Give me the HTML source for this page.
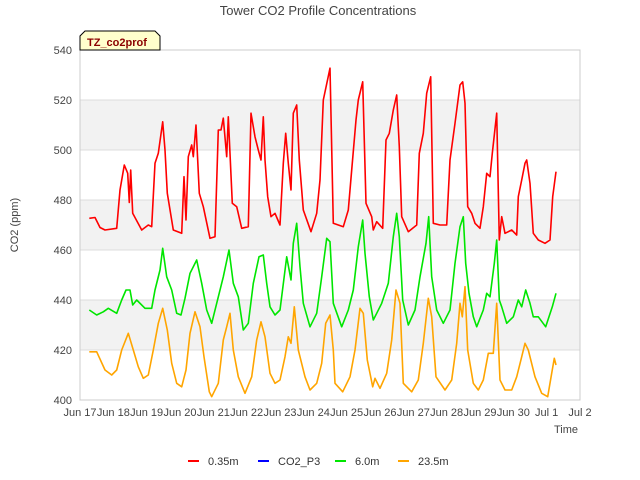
<!DOCTYPE html>
<html><head><meta charset="utf-8"><style>
body{margin:0;background:#fff;}
svg{display:block;font-family:"Liberation Sans","DejaVu Sans",sans-serif;}
</style></head><body>
<svg id="chart" width="640" height="480" xmlns="http://www.w3.org/2000/svg">
<text x="318" y="15" text-anchor="middle" font-size="13" fill="#444">Tower CO2 Profile Concentrations</text>
<g id="bands"></g>
<g id="grid"></g>
<rect x="80" y="50" width="500" height="350" fill="none" stroke="#ccc"/>
<g id="yticks"></g>
<g id="xticks"></g>
<text transform="translate(18,225) rotate(-90)" text-anchor="middle" font-size="11" fill="#444">CO2 (ppm)</text>
<text x="566" y="433" text-anchor="middle" font-size="11" fill="#444">Time</text>
<g id="series"></g>
<g>
<path d="M80,50 L80,36 L85,31 L155,31 L160,36 L160,50 Z" fill="#ffffcc" stroke="#000" stroke-width="1"/>
<text x="87" y="46" font-size="11" font-weight="bold" fill="#8b0000">TZ_co2prof</text>
</g>
<g>
<g><line x1="188" y1="461" x2="199" y2="461" stroke="#ff0000" stroke-width="2"/><text x="208" y="465" font-size="11" fill="#333">0.35m</text></g>
<g><line x1="258" y1="461" x2="269" y2="461" stroke="#0000ff" stroke-width="2"/><text x="278" y="465" font-size="11" fill="#333">CO2_P3</text></g>
<g><line x1="335" y1="461" x2="346" y2="461" stroke="#00e600" stroke-width="2"/><text x="355" y="465" font-size="11" fill="#333">6.0m</text></g>
<g><line x1="398" y1="461" x2="409" y2="461" stroke="#ffa500" stroke-width="2"/><text x="418" y="465" font-size="11" fill="#333">23.5m</text></g>
</g>
</svg>
<script>
// days since Jun 17 00:00
const yTicks = [400,420,440,460,480,500,520,540];
const xTickLabels = ["Jun 17","Jun 18","Jun 19","Jun 20","Jun 21","Jun 22","Jun 23","Jun 24","Jun 25","Jun 26","Jun 27","Jun 28","Jun 29","Jun 30","Jul 1","Jul 2"];
const redT = [0.28,0.45,0.60,0.75,1.10,1.20,1.33,1.43,1.48,1.52,1.58,1.85,2.05,2.15,2.25,2.35,2.48,2.55,2.62,2.80,3.05,3.12,3.18,3.25,3.35,3.40,3.48,3.58,3.70,3.90,4.05,4.15,4.23,4.30,4.40,4.45,4.57,4.70,4.85,5.05,5.13,5.25,5.35,5.43,5.50,5.55,5.63,5.73,5.85,6.00,6.10,6.17,6.25,6.33,6.40,6.50,6.58,6.70,6.93,7.10,7.20,7.30,7.50,7.60,7.90,8.05,8.15,8.28,8.35,8.48,8.58,8.75,8.80,8.90,9.08,9.18,9.28,9.40,9.50,9.58,9.65,9.85,10.10,10.18,10.30,10.40,10.52,10.60,10.80,11.00,11.10,11.25,11.40,11.48,11.55,11.63,11.75,11.85,12.00,12.10,12.20,12.30,12.37,12.50,12.58,12.65,12.75,12.95,13.10,13.15,13.25,13.35,13.40,13.50,13.60,13.75,13.95,14.10,14.18,14.28];
const redV = [472.7,473,469,468,468.7,484,494,490.7,479,492,474.7,468,470,469.3,494.7,498.7,511.3,500,482.7,468,466.7,489.3,472,497.3,502,497.3,510,482.7,477.3,464.7,465.3,508,508,512.7,497.3,513.3,478.7,477.3,468.7,469.3,514.7,505.3,500,496,513.3,496,481.3,473.3,474.7,470,494.7,506.7,494.7,484,514.7,518,496,476,467.3,474.7,488,520,532.7,470.7,469.3,476,492,512,520,527.3,478.7,473.3,468,471.3,468.7,504,506.7,516,522,501.3,473.3,467.3,470,498.7,506.7,522.7,529.3,470.7,470,470,496,510.7,526,527.3,518.7,477.3,474.7,470.7,468.7,477.3,490.7,489.3,498.7,514.7,464,473.3,466.7,468,466,481.3,488,494.7,496,486.7,466.7,464,462.7,464,481.3,491.3];
const greenT = [0.28,0.50,0.70,0.85,1.10,1.25,1.38,1.50,1.58,1.70,1.95,2.15,2.25,2.40,2.48,2.60,2.75,2.90,3.03,3.15,3.30,3.50,3.65,3.80,3.95,4.10,4.30,4.47,4.60,4.75,4.90,5.05,5.20,5.37,5.50,5.60,5.70,5.85,6.00,6.20,6.33,6.40,6.50,6.60,6.70,6.90,7.10,7.25,7.40,7.50,7.60,7.85,8.05,8.20,8.35,8.48,8.55,8.68,8.80,8.90,9.05,9.25,9.40,9.50,9.58,9.68,9.85,10.05,10.20,10.38,10.46,10.55,10.70,10.90,11.10,11.25,11.40,11.50,11.57,11.67,11.80,11.90,12.10,12.20,12.30,12.43,12.50,12.58,12.65,12.80,13.00,13.15,13.25,13.37,13.50,13.60,13.75,13.97,14.17,14.28];
const greenV = [436,434,435.3,436.7,434.7,440,444,444,438,440,436.7,436.7,444,452,460.7,449.3,444,434.7,434,440.7,450.7,456,446.7,436,430.7,438.7,449.3,460,446.7,441.3,428,430.7,446.7,457.3,458,446.7,437.3,434,436,457.3,448,462.7,470.7,453.3,438.7,429.3,434.7,449.3,464.7,463.3,438.7,429.3,436,444,461.3,472,458.7,441.3,432,434.7,438.7,446.7,465.3,474.7,465.3,440,430,436,449.3,462.7,473.3,449.3,436,430.7,436,454.7,469.3,473.3,454.7,442.7,433.3,429.3,436,442.7,441.3,454.7,464,440,437.3,430.7,433.3,440,437.3,444,438.7,433.3,433.3,429.3,437.3,442.7];
const orangeT = [0.28,0.50,0.75,0.95,1.10,1.25,1.45,1.60,1.75,1.90,2.05,2.20,2.35,2.48,2.62,2.75,2.90,3.05,3.18,3.30,3.45,3.60,3.72,3.88,3.95,4.15,4.30,4.40,4.50,4.60,4.75,4.95,5.15,5.30,5.43,5.55,5.70,5.85,6.00,6.15,6.25,6.33,6.43,6.55,6.75,6.90,7.10,7.25,7.37,7.50,7.60,7.65,7.88,8.10,8.25,8.40,8.50,8.62,8.78,8.85,9.00,9.20,9.35,9.48,9.60,9.70,9.95,10.15,10.30,10.45,10.55,10.68,10.95,11.15,11.30,11.40,11.47,11.55,11.63,11.80,11.95,12.10,12.25,12.40,12.50,12.60,12.75,12.95,13.10,13.25,13.35,13.45,13.65,13.85,14.03,14.15,14.23,14.28];
const orangeV = [419.3,419.3,412,410,412,420,426.7,420,413.3,408.7,410,420,430.7,436.7,428,414.7,406.7,405.3,412,426.7,435.3,429.3,417.3,403.3,401.3,406.7,424,429.3,434.7,420,409.3,402.7,409.3,424,431.3,425.3,410.7,406.7,408,417.3,425.3,422.7,437.3,420,409.3,404,406.7,414.7,430.7,434,420,406.7,403.3,409.3,420,436.7,434.7,416,405.3,408.7,404.7,410.7,424,444,438.7,406.7,403.3,408,422.7,440.7,433.3,409.3,404,408,422.7,438.7,433.3,445.3,420,406.7,404,408,418.7,418.7,438.7,408,404,404,409.3,417.3,422.7,420,409.3,402.7,401.3,410.7,416.7,414];

const NS = "http://www.w3.org/2000/svg";
const X0 = 80, X1 = 580, Y0 = 400, Y1 = 50;
const xScale = d => X0 + d / 15 * (X1 - X0);
const yScale = v => Y0 - (v - 400) / 140 * (Y0 - Y1);
function mk(tag, attrs, parent) {
  const e = document.createElementNS(NS, tag);
  for (const k in attrs) e.setAttribute(k, attrs[k]);
  parent.appendChild(e);
  return e;
}
const bands = document.getElementById('bands');
for (let i = 0; i < yTicks.length - 1; i++) {
  const r = mk('rect', {x: X0, y: yScale(yTicks[i+1]), width: X1 - X0, height: yScale(yTicks[i]) - yScale(yTicks[i+1]), fill: (i % 2 === 1) ? '#f2f2f2' : '#ffffff'}, bands);
  
  
}
const grid = document.getElementById('grid');
const yt = document.getElementById('yticks');
yTicks.forEach(v => {
  const l = mk('line', {x1: X0, x2: X1, y1: yScale(v), y2: yScale(v), stroke: '#dcdcdc', 'stroke-width': 1}, grid);
  
  
  const t = mk('text', {x: 72, y: yScale(v) + 4, 'text-anchor': 'end', 'font-size': 11, fill: '#444'}, yt);
  t.textContent = v;
  
  
});
const xt = document.getElementById('xticks');
xTickLabels.forEach((lab, i) => {
  const t = mk('text', {x: xScale(i), y: 416, 'text-anchor': 'middle', 'font-size': 11, fill: '#444'}, xt);
  t.textContent = lab;
  
  
});
const series = document.getElementById('series');
function drawLine(T, V, color, name) {
  const d = T.map((t, i) => (i ? 'L' : 'M') + xScale(t).toFixed(1) + ',' + yScale(V[i]).toFixed(1)).join(' ');
  const p = mk('path', {d: d, fill: 'none', stroke: color, 'stroke-width': 1.6, 'stroke-linejoin': 'round'}, series);
  
  
}
drawLine(orangeT, orangeV, '#ffa500', 'series-23.5m');
drawLine(greenT, greenV, '#00e600', 'series-6.0m');
drawLine(redT, redV, '#ff0000', 'series-0.35m');
</script>
</body></html>
